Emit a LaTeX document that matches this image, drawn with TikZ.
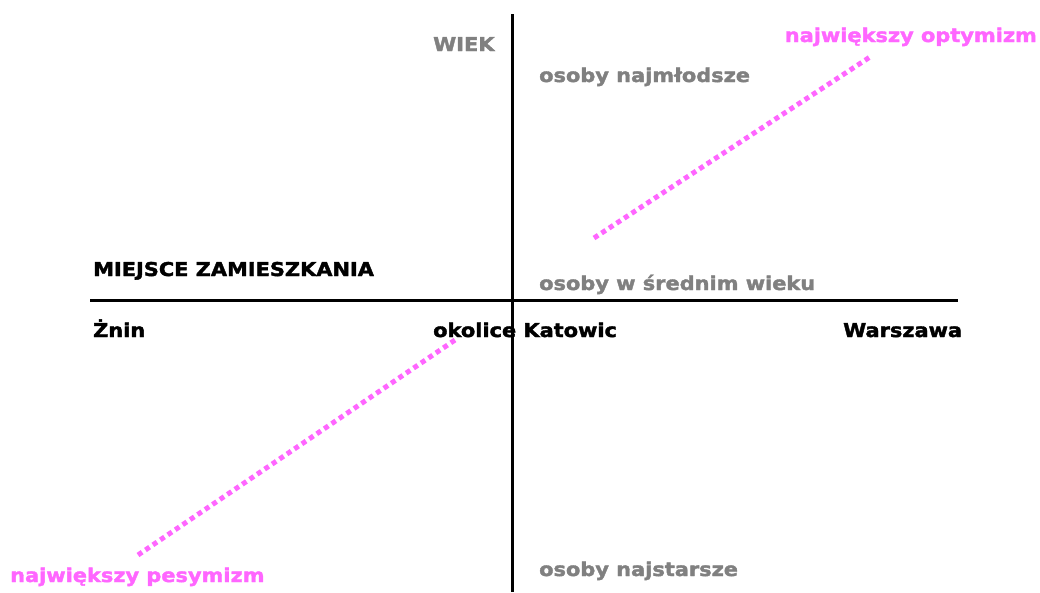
\documentclass[tikz,border=0pt]{standalone}
\usepackage{fontspec}
\newfontfamily\vfont{DejaVu Sans Bold}[FakeStretch=1.1,FakeBold=2]
\definecolor{labgray}{HTML}{808080}
\definecolor{pinkline}{HTML}{FF66FF}
\begin{document}
\begin{tikzpicture}[x=1pt,y=-1pt,
  lab/.style={anchor=base west,inner sep=0pt,font=\fontsize{19}{22}\vfont},
  graylab/.style={lab,text=labgray},
  pinklab/.style={lab,text=pinkline},
  axis/.style={line width=3pt},
  trend/.style={pinkline,line width=5pt,dash pattern=on 5pt off 4pt}]
\useasboundingbox (0,0) rectangle (1040,592);
\coordinate (vtop) at (512,14);
\coordinate (vbot) at (512,592);
\coordinate (hl) at (90,300);
\coordinate (hr) at (958,300);
\draw[axis] (vtop) -- (vbot);
\draw[axis] (hl) -- (hr);
\node[graylab] (wiek) at (433,51) {WIEK};
\node[graylab] (young) at (539,82) {osoby najmłodsze};
\node[graylab] (mid) at (539,290) {osoby w średnim wieku};
\node[graylab] (old) at (539,576) {osoby najstarsze};
\node[lab] (miejsce) at (93,276) {MIEJSCE ZAMIESZKANIA};
\node[lab] (znin) at (93,337) {Żnin};
\node[lab] (kat) at (433,337) {okolice Katowic};
\node[lab] (war) at (843,337) {Warszawa};
\node[pinklab,anchor=base east] (opt) at (1037,42) {największy optymizm};
\node[pinklab] (pes) at (10,582) {największy pesymizm};
\coordinate (o1) at (594,238);
\coordinate (o2) at (870,57);
\coordinate (p1) at (138,555);
\coordinate (p2) at (455,340);
\draw[trend] (o1) -- (o2);
\draw[trend] (p1) -- (p2);
\end{tikzpicture}
\end{document}
